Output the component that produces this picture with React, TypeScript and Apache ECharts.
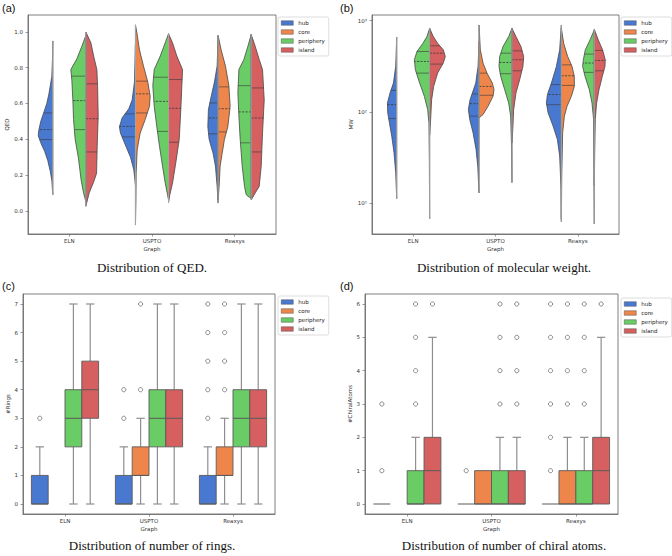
import React, { useEffect, useRef } from 'react';
import * as echarts from 'echarts';

const categories = ['ELN', 'USPTO', 'Reaxys'];
const hues = ['hub', 'core', 'periphery', 'island'];
const hueColors = ['#4878d0', '#ee854a', '#6acc64', '#d65f5f'];

// ---- (a) QED split violins: [value, relative density] from top to bottom, per category
const qedHub = [
  [[0.95, 0], [0.85, 0.3], [0.75, 1], [0.7, 2.5], [0.65, 4], [0.6, 6], [0.55, 9], [0.5, 12], [0.45, 14], [0.42, 14.5], [0.38, 12], [0.33, 8], [0.28, 5], [0.22, 2.5], [0.17, 1], [0.09, 0]],
  [[0.93, 0], [0.72, 1], [0.62, 3.3], [0.57, 6.7], [0.52, 13.3], [0.47, 16], [0.435, 15], [0.38, 11], [0.3, 5], [0.23, 1.7], [0.146, 0]],
  [[0.98, 0], [0.81, 1], [0.72, 3.7], [0.62, 7.7], [0.566, 9.7], [0.47, 10.3], [0.4, 9], [0.32, 5], [0.25, 2.7], [0.136, 1], [0.043, 0]],
];
const qedCore = [
  null,
  [[1.04, 0], [1.0, 1.3], [0.9, 4], [0.81, 8], [0.72, 12.3], [0.64, 14.7], [0.585, 14], [0.51, 9.7], [0.435, 4.7], [0.34, 1.7], [0.21, 0.7], [0.06, 0.5], [-0.08, 0]],
  [[0.98, 0], [0.9, 3], [0.81, 7.3], [0.7, 10.7], [0.585, 12], [0.47, 9.7], [0.4, 6.3], [0.32, 4], [0.25, 2], [0.136, 1], [0.06, 0]],
];
const qedPeriphery = [
  [[0.98, 0], [0.92, 4], [0.85, 9], [0.79, 15], [0.73, 14], [0.62, 13], [0.51, 12.3], [0.4, 10.7], [0.29, 7.3], [0.17, 4.7], [0.1, 2.3], [0.05, 0]],
  [[0.99, 0], [0.94, 3.3], [0.865, 8.3], [0.79, 14.3], [0.7, 15.7], [0.585, 14.3], [0.47, 11.7], [0.36, 9], [0.25, 6], [0.155, 3.3], [0.09, 1], [0.06, 0]],
  [[0.986, 0], [0.92, 3.3], [0.846, 7.3], [0.79, 12.3], [0.66, 13.3], [0.53, 12.3], [0.4, 11], [0.25, 9], [0.136, 6.7], [0.09, 5], [0.08, 3], [0.07, 0]],
];
const qedIsland = [
  [[1.0, 0], [0.94, 5], [0.86, 8], [0.79, 11], [0.7, 11.7], [0.53, 12.3], [0.36, 11.3], [0.21, 10.7], [0.16, 7.7], [0.1, 3.3], [0.025, 0]],
  [[0.99, 0], [0.94, 4], [0.865, 8.3], [0.79, 14], [0.7, 13.3], [0.57, 12.3], [0.4, 10.7], [0.27, 7.3], [0.155, 4], [0.09, 1.3], [0.047, 0]],
  [[0.986, 0], [0.92, 4], [0.846, 8], [0.79, 11.3], [0.62, 13], [0.435, 11.3], [0.25, 10], [0.136, 8], [0.1, 4], [0.06, 0]],
];
// quartiles [q1, median, q3]
const qedHubQ = [[0.398, 0.454, 0.547], [0.413, 0.472, 0.542], [0.43, 0.519, 0.603]];
const qedCoreQ = [null, [0.547, 0.654, 0.725], [0.441, 0.571, 0.693]];
const qedPeripheryQ = [[0.454, 0.616, 0.753], [0.444, 0.612, 0.747], [0.38, 0.553, 0.7]];
const qedIslandQ = [[0.329, 0.515, 0.71], [0.383, 0.573, 0.734], [0.329, 0.519, 0.687]];

// ---- (b) molecular weight split violins (log axis)
const mwHub = [
  [[658, 0], [315, 1], [207, 3.3], [161, 6.7], [125, 9.3], [97.5, 9], [75.9, 7.3], [54.3, 5], [35.7, 2.7], [21.6, 1], [11.2, 0]],
  [[591, 0], [315, 1], [207, 3.3], [161, 6.7], [136, 9], [106, 10.7], [82.4, 9.3], [59, 6], [38.8, 3], [25.5, 1.3], [12.9, 0]],
  [[897, 0], [479, 1.7], [315, 5], [207, 10], [155, 14], [125, 15], [97.5, 13.3], [69.8, 8.3], [49.9, 4], [32.8, 1.7], [15, 0.4], [6.25, 0]],
];
const mwCore = [
  null,
  [[897, 0], [479, 1.3], [343, 4], [266, 8], [207, 13.3], [175, 15], [148, 14], [115, 9], [93.5, 4], [86, 0]],
  [[825, 0], [566, 2.3], [405, 6.3], [315, 10.7], [245, 13], [190, 13], [148, 10], [115, 5.7], [89.8, 3], [59, 1.3], [20, 0.4], [6.7, 0]],
];
const mwPeriphery = [
  [[825, 0], [669, 2.7], [566, 6.7], [459, 12.7], [372, 15.3], [290, 14.3], [207, 10], [148, 5.3], [106, 2], [75.9, 0.7], [30, 0.3], [6.7, 0]],
  [[825, 0], [669, 3.3], [520, 9], [405, 12.3], [315, 13], [245, 11.3], [175, 7.3], [125, 3.3], [89.8, 1.3], [40, 0.4], [16.8, 0]],
  [[791, 0], [615, 4.3], [479, 9], [372, 11], [315, 11.7], [245, 9.3], [175, 5], [125, 2.3], [82.4, 0.7], [20, 0.3], [5.9, 0]],
];
const mwIsland = [
  [[825, 0], [669, 3.7], [566, 8], [479, 13.7], [405, 15.7], [343, 13.7], [266, 8], [190, 4], [136, 2], [82.4, 1], [56.6, 0]],
  [[825, 0], [669, 4], [520, 9], [405, 11.7], [315, 11], [225, 7.7], [161, 4], [106, 1.7], [69.8, 1], [45.9, 0]],
  [[804, 0], [615, 4], [479, 8.3], [372, 11], [315, 10.7], [245, 8], [175, 4.7], [125, 2.3], [82.4, 1], [35, 0.4], [15.5, 0]],
];
const mwHubQ = [[84.5, 120, 172], [89.8, 123, 157], [120, 155, 199]];
const mwCoreQ = [null, [152, 190, 266], [195, 249, 328]];
const mwPeripheryQ = [[266, 357, 459], [262, 348, 440], [271, 343, 430]];
const mwIslandQ = [[334, 440, 530], [282, 373, 467], [282, 366, 471]];

// ---- (c) number of rings boxplots: [lowWhisker, q1, median, q3, highWhisker]
const ringsHub = [[0, 0, 0, 1, 2], [0, 0, 0, 1, 2], [0, 0, 0, 1, 2]];
const ringsCore = [null, [0, 1, 1, 2, 3], [0, 1, 1, 2, 3]];
const ringsPeriphery = [[0, 2, 3, 4, 7], [0, 2, 3, 4, 7], [0, 2, 3, 4, 7]];
const ringsIsland = [[0, 3, 4, 5, 7], [0, 2, 3, 4, 7], [0, 2, 3, 4, 7]];
const ringsHubOut = [[3], [3, 4], [3, 4, 5, 6, 7]];
const ringsCoreOut = [[], [4, 7], [4, 5, 6, 7]];
const ringsPeripheryOut = [[], [], []];
const ringsIslandOut = [[], [], []];

// ---- (d) number of chiral atoms boxplots
const chiralHub = [[0, 0, 0, 0, 0], [0, 0, 0, 0, 0], [0, 0, 0, 0, 0]];
const chiralCore = [null, [0, 0, 0, 1, 1], [0, 0, 0, 1, 2]];
const chiralPeriphery = [[0, 0, 0, 1, 2], [0, 0, 0, 1, 2], [0, 0, 0, 1, 2]];
const chiralIsland = [[0, 0, 1, 2, 5], [0, 0, 0, 1, 2], [0, 0, 1, 2, 5]];
const chiralHubOut = [[1, 3], [1], [1, 2, 3, 4, 5, 6]];
const chiralCoreOut = [[], [], [3, 4, 5, 6]];
const chiralPeripheryOut = [[3, 4, 5, 6], [3, 4, 5, 6], [3, 4, 5, 6]];
const chiralIslandOut = [[6], [3, 4, 5, 6], [6]];

const qedTicks = [0, 0.2, 0.4, 0.6, 0.8, 1.0];
const ringTicks = [0, 1, 2, 3, 4, 5, 6, 7];
const chiralTicks = [0, 1, 2, 3, 4, 5, 6];
const captions = [
  'Distribution of QED.',
  'Distribution of molecular weight.',
  'Distribution of number of rings.',
  'Distribution of number of chiral atoms.',
];
const panelTags = ['(a)', '(b)', '(c)', '(d)'];

const FONT = 'DejaVu Sans';
const DENS_REF = 16.5;
const SUP: Record<string, string> = { '0': '⁰', '1': '¹', '2': '²', '3': '³' };

function violinSeries(gridIdx: number, hueIdx: number, profiles: any[], quarts: any[], refY: number) {
  const side = hueIdx % 2 === 0 ? -1 : 1;
  const pairOffset = hueIdx < 2 ? -0.2 : 0.2;
  const data: any[] = [];
  profiles.forEach((p, i) => { if (p) data.push([i, quarts[i][1]]); });
  return {
    type: 'custom',
    name: hues[hueIdx],
    xAxisIndex: gridIdx,
    yAxisIndex: gridIdx,
    itemStyle: { color: hueColors[hueIdx] },
    encode: { x: 0, y: 1 },
    data,
    renderItem: (params: any, api: any) => {
      const ci = api.value(0);
      const prof = profiles[ci];
      const q = quarts[ci];
      const c = api.coord([ci, refY]);
      const band = api.size([1, 1], [ci, refY])[0];
      const spineX = c[0] + pairOffset * band;
      const scale = (band * 0.2) / DENS_REF;
      const ys = prof.map((p: number[]) => api.coord([ci, p[0]])[1]);
      const pts = prof.map((p: number[], k: number) => [spineX + side * p[1] * scale, ys[k]]);
      const widthAtY = (y: number) => {
        for (let k = 0; k < ys.length - 1; k++) {
          if (y >= ys[k] && y <= ys[k + 1]) {
            const t = (y - ys[k]) / (ys[k + 1] - ys[k] || 1);
            return prof[k][1] + (prof[k + 1][1] - prof[k][1]) * t;
          }
        }
        return 0;
      };
      const children: any[] = [
        {
          type: 'polygon',
          shape: { points: pts },
          style: { fill: hueColors[hueIdx], stroke: '#474747', lineWidth: 0.8 },
        },
      ];
      q.forEach((qv: number, k: number) => {
        const y = api.coord([ci, qv])[1];
        const w = widthAtY(y) * scale;
        children.push({
          type: 'line',
          shape: { x1: spineX, y1: y, x2: spineX + side * w, y2: y },
          style: k === 1
            ? { stroke: '#3a3a3a', lineWidth: 0.8, lineDash: [2.2, 1.3] }
            : { stroke: '#3a3a3a', lineWidth: 0.6 },
        });
      });
      children.push({
        type: 'line',
        shape: { x1: spineX, y1: ys[0], x2: spineX, y2: ys[ys.length - 1] },
        style: { stroke: '#a3a3a3', lineWidth: 1.1 },
      });
      return { type: 'group', children };
    },
  };
}

function boxSeries(gridIdx: number, hueIdx: number, stats: any[], outliers: number[][], refY: number) {
  const data: any[] = [];
  stats.forEach((s, i) => { if (s) data.push([i, s[2]]); });
  return {
    type: 'custom',
    name: hues[hueIdx],
    xAxisIndex: gridIdx,
    yAxisIndex: gridIdx,
    itemStyle: { color: hueColors[hueIdx] },
    encode: { x: 0, y: 1 },
    data,
    renderItem: (params: any, api: any) => {
      const ci = api.value(0);
      const s = stats[ci];
      const c = api.coord([ci, refY]);
      const band = api.size([1, 1], [ci, refY])[0];
      const w = band * 0.2;
      const cx = c[0] + (hueIdx - 1.5) * w;
      const y = (v: number) => api.coord([ci, v])[1];
      const [lo, q1, med, q3, hi] = s;
      const capW = w * 0.5;
      const whisk = { stroke: '#8f8f8f', lineWidth: 1.2 };
      const children: any[] = [];
      if (hi > q3) {
        children.push({ type: 'line', shape: { x1: cx, y1: y(q3), x2: cx, y2: y(hi) }, style: whisk });
        children.push({ type: 'line', shape: { x1: cx - capW / 2, y1: y(hi), x2: cx + capW / 2, y2: y(hi) }, style: whisk });
      }
      if (lo < q1) {
        children.push({ type: 'line', shape: { x1: cx, y1: y(q1), x2: cx, y2: y(lo) }, style: whisk });
        children.push({ type: 'line', shape: { x1: cx - capW / 2, y1: y(lo), x2: cx + capW / 2, y2: y(lo) }, style: whisk });
      }
      if (q3 > q1) {
        children.push({
          type: 'rect',
          shape: { x: cx - w / 2, y: y(q3), width: w, height: y(q1) - y(q3) },
          style: { fill: hueColors[hueIdx], stroke: '#5a5a5a', lineWidth: 0.9 },
        });
      }
      children.push({
        type: 'line',
        shape: { x1: cx - w / 2, y1: y(med), x2: cx + w / 2, y2: y(med) },
        style: { stroke: '#5a5a5a', lineWidth: 1 },
      });
      (outliers[ci] || []).forEach((o) => {
        children.push({
          type: 'circle',
          shape: { cx, cy: y(o), r: 2.1 },
          style: { fill: 'none', stroke: '#5c5c5c', lineWidth: 0.7 },
        });
      });
      return { type: 'group', children };
    },
  };
}

const grids = [
  { left: 28, top: 15, width: 248, height: 219 },
  { left: 372, top: 15, width: 247, height: 219 },
  { left: 23, top: 294, width: 252, height: 220 },
  { left: 365, top: 294, width: 253, height: 220 },
];
const legendPos = [
  { left: 278, top: 17 },
  { left: 621, top: 17 },
  { left: 278, top: 296 },
  { left: 621, top: 298 },
];
const captionPos = [
  [152, 267],
  [504, 267],
  [152, 545],
  [504, 545],
];
const tagPos = [
  [2, 2],
  [340, 2],
  [2, 280],
  [340, 280],
];

const axisColor = '#6f6f6f';
const labelStyle = { fontSize: 5.5, fontFamily: FONT, color: '#333' };

function xAxis(gridIndex: number) {
  return {
    type: 'category',
    gridIndex,
    data: categories,
    axisLine: { show: true, onZero: false, lineStyle: { color: axisColor, width: 0.9 } },
    axisTick: { show: true, alignWithLabel: true, length: 2.5, lineStyle: { color: axisColor, width: 0.7 } },
    axisLabel: { ...labelStyle, margin: 4 },
    splitLine: { show: false },
    name: 'Graph',
    nameLocation: 'middle',
    nameGap: 12,
    nameTextStyle: { ...labelStyle },
  };
}

function yValueAxis(gridIndex: number, min: number, max: number, ticks: number[], name: string, fmt: (v: number) => string, nameGap: number) {
  return {
    type: 'value',
    gridIndex,
    min,
    max,
    axisLine: { show: true, onZero: false, lineStyle: { color: axisColor, width: 0.9 } },
    axisTick: { show: true, length: 2.5, customValues: ticks, lineStyle: { color: axisColor, width: 0.7 } },
    axisLabel: { ...labelStyle, margin: 5, customValues: ticks, formatter: fmt },
    splitLine: { show: false },
    name,
    nameLocation: 'middle',
    nameGap,
    nameTextStyle: { ...labelStyle },
  };
}

export default function App() {
  const ref = useRef<HTMLDivElement>(null);
  useEffect(() => {
    if (!ref.current) return;
    const chart = echarts.init(ref.current, undefined, { renderer: 'svg' });

    const series: any[] = [];
    const qedP = [qedHub, qedCore, qedPeriphery, qedIsland];
    const qedQ = [qedHubQ, qedCoreQ, qedPeripheryQ, qedIslandQ];
    const mwP = [mwHub, mwCore, mwPeriphery, mwIsland];
    const mwQ = [mwHubQ, mwCoreQ, mwPeripheryQ, mwIslandQ];
    const rS = [ringsHub, ringsCore, ringsPeriphery, ringsIsland];
    const rO = [ringsHubOut, ringsCoreOut, ringsPeripheryOut, ringsIslandOut];
    const cS = [chiralHub, chiralCore, chiralPeriphery, chiralIsland];
    const cO = [chiralHubOut, chiralCoreOut, chiralPeripheryOut, chiralIslandOut];
    for (let h = 0; h < 4; h++) series.push(violinSeries(0, h, qedP[h], qedQ[h], 0.5));
    for (let h = 0; h < 4; h++) series.push(violinSeries(1, h, mwP[h], mwQ[h], 100));
    for (let h = 0; h < 4; h++) series.push(boxSeries(2, h, rS[h], rO[h], 0));
    for (let h = 0; h < 4; h++) series.push(boxSeries(3, h, cS[h], cO[h], 0));

    const legends = legendPos.map((p) => ({
      ...p,
      orient: 'vertical',
      data: hues,
      icon: 'rect',
      itemWidth: 12,
      itemHeight: 4.5,
      itemGap: 3,
      itemTextGap: 4,
      selectedMode: false,
      textStyle: { fontSize: 5.5, fontFamily: FONT, color: '#222' },
      itemStyle: { borderColor: '#555', borderWidth: 0.5 },
      backgroundColor: '#ffffff',
      borderColor: '#d4d4d4',
      borderWidth: 0.8,
      borderRadius: 2,
      padding: [3, 4, 3, 3],
    }));

    const graphic: any[] = [];
    captions.forEach((t, i) => {
      graphic.push({
        type: 'text',
        x: captionPos[i][0],
        y: captionPos[i][1],
        style: { text: t, font: '13px "Liberation Serif"', fill: '#111', textAlign: 'center', textVerticalAlign: 'middle' },
      });
    });
    panelTags.forEach((t, i) => {
      graphic.push({
        type: 'text',
        x: tagPos[i][0],
        y: tagPos[i][1],
        style: { text: t, font: '11px "Liberation Sans"', fill: '#111', textAlign: 'left', textVerticalAlign: 'top' },
      });
    });

    chart.setOption({
      animation: false,
      backgroundColor: '#ffffff',
      grid: grids.map((g) => ({ ...g, show: true, borderColor: axisColor, borderWidth: 0.9, backgroundColor: 'transparent' })),
      xAxis: [xAxis(0), xAxis(1), xAxis(2), xAxis(3)],
      yAxis: [
        yValueAxis(0, -0.13, 1.095, qedTicks, 'QED', (v: number) => v.toFixed(1), 14),
        {
          type: 'log',
          gridIndex: 1,
          logBase: 10,
          min: 4.58,
          max: 1154,
          axisLine: { show: true, onZero: false, lineStyle: { color: axisColor, width: 0.9 } },
          axisTick: { show: true, length: 2.5, lineStyle: { color: axisColor, width: 0.7 } },
          axisLabel: {
            ...labelStyle,
            margin: 5,
            showMinLabel: false,
            showMaxLabel: false,
            formatter: (v: number) => {
              const e = Math.round(Math.log10(v));
              if (Math.abs(Math.log10(v) - e) > 1e-6) return '';
              return '10' + String(e).split('').map((d) => SUP[d] || d).join('');
            },
          },
          splitLine: { show: false },
          name: 'MW',
          nameLocation: 'middle',
          nameGap: 15,
          nameTextStyle: { ...labelStyle },
        },
        yValueAxis(2, -0.35, 7.35, ringTicks, '#Rings', (v: number) => String(v), 12),
        yValueAxis(3, -0.3, 6.3, chiralTicks, '#ChiralAtoms', (v: number) => String(v), 12),
      ],
      legend: legends,
      series,
      graphic,
    });
    return () => chart.dispose();
  }, []);
  return <div ref={ref} style={{ width: 672, height: 556, position: 'fixed', left: 0, top: 0 }} />;
}
